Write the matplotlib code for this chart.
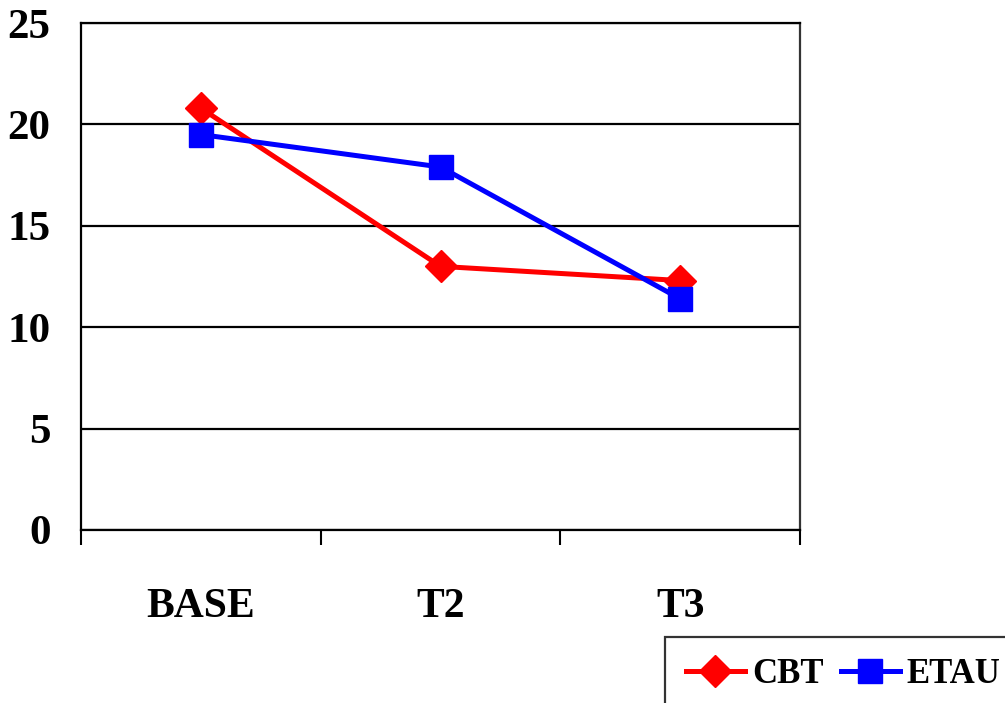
import matplotlib
matplotlib.use("Agg")
import matplotlib.pyplot as plt
from matplotlib.ticker import FixedLocator, NullFormatter, FixedFormatter

categories = ["BASE", "T2", "T3"]
cbt = [20.8, 13.0, 12.3]
etau = [19.5, 17.9, 11.4]
y_ticks = [0, 5, 10, 15, 20, 25]

plt.rcParams['font.family'] = ['Liberation Serif', 'DejaVu Serif']
plt.rcParams['font.weight'] = 'bold'

fig = plt.figure(figsize=(10.05, 7.03), dpi=100)
ax = fig.add_axes([81 / 1005, 1 - 530 / 703, (800 - 81) / 1005, (530 - 23) / 703])

x = list(range(len(categories)))
ax.plot(x, cbt, color='#ff0000', lw=3.6, marker='D', ms=16, mec='#ff0000',
        label='CBT', zorder=3)
ax.plot(x, etau, color='#0000ff', lw=3.6, marker='s', ms=17, mec='#0000ff',
        label='ETAU', zorder=3)

ax.set_xlim(-0.5, len(categories) - 0.5)
ax.set_ylim(0, 25)

# category boundaries as major ticks, labels on minor ticks at centers
ax.xaxis.set_major_locator(FixedLocator([i - 0.5 for i in range(len(categories) + 1)]))
ax.xaxis.set_major_formatter(NullFormatter())
ax.xaxis.set_minor_locator(FixedLocator(x))
ax.xaxis.set_minor_formatter(FixedFormatter(categories))
ax.tick_params(axis='x', which='major', length=11, width=1.5, direction='out', color='black')
ax.tick_params(axis='x', which='minor', length=0, pad=42, labelsize=30)

ax.set_yticks(y_ticks)
ax.tick_params(axis='y', length=0, pad=22, labelsize=31)
for lab in ax.get_xticklabels(minor=True) + ax.get_yticklabels():
    lab.set_fontweight('bold')

ax.grid(axis='y', color='black', lw=1.6, zorder=1)
ax.set_axisbelow(True)
for side in ['left', 'bottom', 'top']:
    ax.spines[side].set_color('black')
    ax.spines[side].set_linewidth(1.6)
ax.spines['right'].set_color('#333333')
ax.spines['right'].set_linewidth(1.6)

leg = fig.legend(loc='upper left', bbox_to_anchor=(665 / 1005, 1 - 637 / 703),
                 ncol=2, frameon=True, fancybox=False, edgecolor='black',
                 handlelength=1.7, handletextpad=0.2,
                 columnspacing=0.5, borderpad=0.6, borderaxespad=0,
                 prop={'weight': 'bold', 'size': 25})
leg.get_frame().set_linewidth(1.6)

fig.savefig('out.png', dpi=100)
